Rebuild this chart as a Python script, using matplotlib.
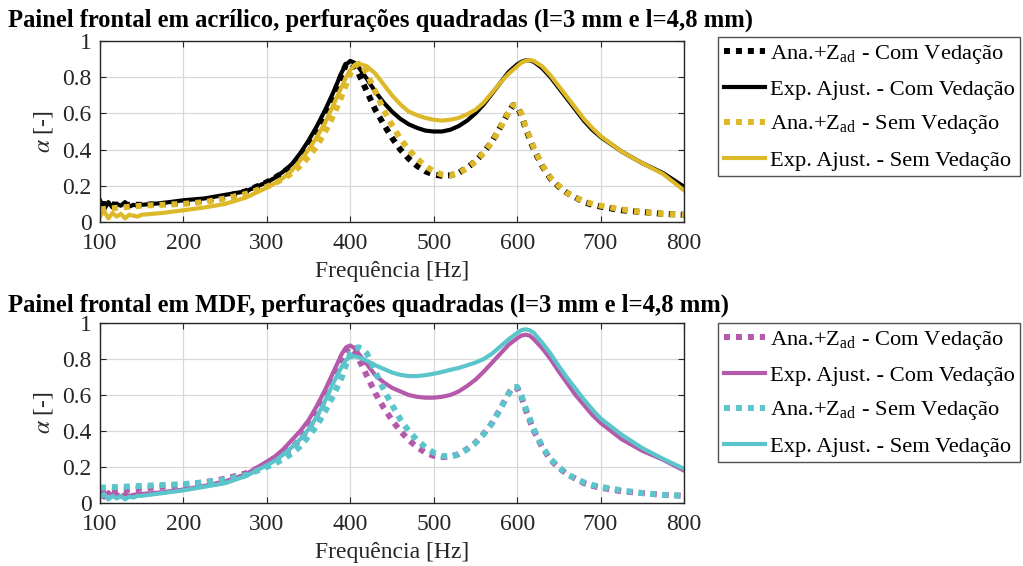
import matplotlib
matplotlib.use("Agg")
import matplotlib.pyplot as plt
from matplotlib.ticker import FuncFormatter

plt.rcParams['font.family'] = ['Liberation Serif', 'DejaVu Serif']
plt.rcParams['mathtext.fontset'] = 'stix'

# ---------------- data ----------------
f_ana = [100, 125, 150, 175, 200, 225, 250, 275, 300, 310, 320, 330, 340, 350, 360, 370, 380, 390, 395,
         400, 405, 410, 415, 420, 430, 440, 450, 460, 470, 480, 490, 500, 510, 520, 530, 540, 550, 560,
         570, 580, 590, 595, 600, 605, 610, 620, 630, 640, 650, 660, 670, 680, 690, 700, 725, 750, 775, 800]

f_exp = [100, 105, 110, 115, 120, 125, 130, 135, 140, 145, 150, 175, 200, 225, 250, 275, 300, 310, 320,
         330, 340, 350, 360, 370, 380, 390, 395, 400, 405, 410, 420, 430, 440, 450, 460, 470, 480, 490,
         500, 510, 520, 530, 540, 550, 560, 570, 580, 590, 600, 605, 610, 615, 620, 630, 640, 650, 660,
         670, 680, 690, 700, 725, 750, 775, 800]

# Acrylic panel
acr_ana_com = [0.10, 0.095, 0.095, 0.10, 0.105, 0.12, 0.14, 0.17, 0.22, 0.245, 0.275, 0.31, 0.36, 0.42,
               0.50, 0.59, 0.70, 0.82, 0.87, 0.88, 0.86, 0.82, 0.77, 0.72, 0.62, 0.54, 0.465, 0.40, 0.35,
               0.31, 0.28, 0.262, 0.255, 0.258, 0.272, 0.30, 0.335, 0.385, 0.445, 0.525, 0.61, 0.645,
               0.64, 0.59, 0.52, 0.40, 0.31, 0.24, 0.195, 0.16, 0.135, 0.11, 0.095, 0.085, 0.065, 0.055,
               0.045, 0.04]
acr_ana_sem = [0.07, 0.08, 0.09, 0.095, 0.10, 0.11, 0.13, 0.155, 0.195, 0.215, 0.24, 0.27, 0.31, 0.36,
               0.42, 0.50, 0.59, 0.70, 0.76, 0.82, 0.86, 0.875, 0.86, 0.82, 0.72, 0.62, 0.535, 0.46, 0.40,
               0.35, 0.31, 0.28, 0.262, 0.258, 0.27, 0.298, 0.333, 0.383, 0.443, 0.523, 0.61, 0.645,
               0.645, 0.60, 0.53, 0.41, 0.315, 0.245, 0.20, 0.16, 0.135, 0.115, 0.10, 0.09, 0.07, 0.055,
               0.045, 0.04]
acr_exp_com = [0.12, 0.07, 0.11, 0.08, 0.10, 0.09, 0.11, 0.085, 0.095, 0.09, 0.095, 0.105, 0.12, 0.13,
               0.15, 0.17, 0.22, 0.245, 0.28, 0.32, 0.38, 0.45, 0.53, 0.62, 0.72, 0.83, 0.87, 0.89, 0.88,
               0.855, 0.79, 0.72, 0.66, 0.61, 0.57, 0.54, 0.52, 0.505, 0.50, 0.50, 0.51, 0.53, 0.56, 0.60,
               0.65, 0.71, 0.77, 0.83, 0.87, 0.885, 0.893, 0.893, 0.885, 0.85, 0.80, 0.74, 0.68, 0.62,
               0.56, 0.51, 0.47, 0.39, 0.325, 0.27, 0.195]
acr_exp_sem = [0.03, 0.06, 0.02, 0.05, 0.03, 0.045, 0.02, 0.04, 0.035, 0.03, 0.04, 0.05, 0.065, 0.08,
               0.10, 0.135, 0.19, 0.215, 0.245, 0.285, 0.34, 0.40, 0.47, 0.55, 0.65, 0.75, 0.80, 0.84,
               0.865, 0.875, 0.86, 0.82, 0.76, 0.70, 0.65, 0.61, 0.59, 0.575, 0.565, 0.56, 0.565, 0.575,
               0.595, 0.62, 0.66, 0.715, 0.77, 0.82, 0.86, 0.88, 0.89, 0.895, 0.89, 0.86, 0.81, 0.75,
               0.69, 0.63, 0.57, 0.52, 0.475, 0.39, 0.325, 0.265, 0.175]

# MDF panel
mdf_ana_com = [0.06, 0.07, 0.08, 0.09, 0.10, 0.115, 0.135, 0.165, 0.215, 0.24, 0.27, 0.305, 0.355, 0.415,
               0.49, 0.58, 0.69, 0.80, 0.85, 0.865, 0.845, 0.80, 0.755, 0.705, 0.61, 0.53, 0.46, 0.40,
               0.35, 0.31, 0.28, 0.262, 0.255, 0.258, 0.272, 0.30, 0.335, 0.385, 0.445, 0.525, 0.61,
               0.645, 0.64, 0.59, 0.52, 0.40, 0.31, 0.24, 0.195, 0.16, 0.135, 0.11, 0.095, 0.085, 0.065,
               0.055, 0.045, 0.04]
mdf_ana_sem = [0.085, 0.09, 0.095, 0.10, 0.105, 0.115, 0.13, 0.155, 0.20, 0.22, 0.245, 0.275, 0.315, 0.37,
               0.43, 0.51, 0.60, 0.70, 0.77, 0.83, 0.86, 0.865, 0.855, 0.83, 0.73, 0.63, 0.545, 0.465,
               0.40, 0.35, 0.31, 0.28, 0.262, 0.258, 0.27, 0.298, 0.333, 0.383, 0.443, 0.523, 0.61,
               0.645, 0.645, 0.60, 0.53, 0.41, 0.315, 0.245, 0.20, 0.16, 0.135, 0.115, 0.10, 0.09, 0.07,
               0.055, 0.045, 0.04]
mdf_exp_com = [0.05, 0.03, 0.06, 0.04, 0.05, 0.035, 0.05, 0.04, 0.045, 0.05, 0.05, 0.06, 0.075, 0.095,
               0.12, 0.16, 0.23, 0.26, 0.30, 0.35, 0.40, 0.46, 0.54, 0.63, 0.73, 0.83, 0.865, 0.875,
               0.86, 0.83, 0.77, 0.71, 0.67, 0.64, 0.62, 0.60, 0.59, 0.585, 0.585, 0.59, 0.60, 0.62,
               0.65, 0.685, 0.73, 0.78, 0.83, 0.88, 0.915, 0.93, 0.935, 0.93, 0.91, 0.86, 0.80, 0.73,
               0.665, 0.60, 0.545, 0.49, 0.445, 0.355, 0.29, 0.24, 0.18]
mdf_exp_sem = [0.03, 0.05, 0.02, 0.04, 0.025, 0.04, 0.02, 0.035, 0.03, 0.04, 0.04, 0.055, 0.07, 0.09,
               0.11, 0.15, 0.21, 0.235, 0.27, 0.31, 0.355, 0.41, 0.48, 0.57, 0.67, 0.76, 0.795, 0.81,
               0.815, 0.81, 0.79, 0.765, 0.745, 0.725, 0.712, 0.705, 0.705, 0.71, 0.718, 0.728, 0.74,
               0.75, 0.765, 0.78, 0.80, 0.83, 0.87, 0.91, 0.945, 0.96, 0.965, 0.96, 0.945, 0.89, 0.83,
               0.76, 0.695, 0.635, 0.575, 0.52, 0.47, 0.38, 0.305, 0.245, 0.19]

titles = ["Painel frontal em acrílico, perfurações quadradas (l=3 mm e l=4,8 mm)",
          "Painel frontal em MDF, perfurações quadradas (l=3 mm e l=4,8 mm)"]
labels = [r"Ana.+Z$_\mathregular{ad}$ - Com Vedação", "Exp. Ajust. - Com Vedação",
          r"Ana.+Z$_\mathregular{ad}$ - Sem Vedação", "Exp. Ajust. - Sem Vedação"]
xticks = [100, 200, 300, 400, 500, 600, 700, 800]
yticks = [0, 0.2, 0.4, 0.6, 0.8, 1]

# ---------------- styling ----------------
W, H = 1023, 566
fig = plt.figure(figsize=(W / 100, H / 100), dpi=100)
GRAY = '#262626'

panels = [
    dict(rect=(100, 41, 684, 222), title_y=20, colors=('black', '#DDB92A'),
         series=(acr_ana_com, acr_exp_com, acr_ana_sem, acr_exp_sem), leg=(718, 37)),
    dict(rect=(100, 323, 684, 503), title_y=305, colors=('#B55AAB', '#5BC5CB'),
         series=(mdf_ana_com, mdf_exp_com, mdf_ana_sem, mdf_exp_sem), leg=(718, 323)),
]

for p, title in zip(panels, titles):
    x0, y0, x1, y1 = p['rect']
    ax = fig.add_axes([x0 / W, 1 - y1 / H, (x1 - x0) / W, (y1 - y0) / H])
    c_com, c_sem = p['colors']
    s_ana_com, s_exp_com, s_ana_sem, s_exp_sem = p['series']
    handles = []
    handles += ax.plot(f_ana, s_ana_com, color=c_com, lw=4.3, linestyle=(0, (1, 1)))
    handles += ax.plot(f_exp, s_exp_com, color=c_com, lw=3)
    handles += ax.plot(f_ana, s_ana_sem, color=c_sem, lw=4.3, linestyle=(0, (1, 1)))
    handles += ax.plot(f_exp, s_exp_sem, color=c_sem, lw=3)
    ax.set_xlim(100, 800)
    ax.set_ylim(0, 1)
    ax.set_xticks(xticks)
    ax.set_yticks(yticks)
    ax.yaxis.set_major_formatter(FuncFormatter(lambda v, pos: f"{v:g}"))
    ax.grid(True, color='#d9d9d9', lw=0.9)
    ax.set_axisbelow(True)
    ax.tick_params(direction='in', top=True, right=True, labelsize=17, colors=GRAY, length=4)
    ax.tick_params(axis='x', pad=8)
    ax.tick_params(axis='y', pad=6)
    for sp in ax.spines.values():
        sp.set_color(GRAY)
        sp.set_linewidth(1.0)
    ax.set_xlabel("Frequência [Hz]", fontsize=17, color=GRAY, labelpad=5)
    ax.set_ylabel(r"$\alpha$ [-]", fontsize=17, color=GRAY, labelpad=5)
    fig.text(8 / W, 1 - p['title_y'] / H, title, fontsize=17.7, fontweight='bold',
             ha='left', va='center')
    lx, ly = p['leg']
    leg = fig.legend(handles, labels, loc='upper left', bbox_to_anchor=(lx / W, 1 - ly / H),
                     fontsize=16.2, frameon=True, fancybox=False, edgecolor=GRAY,
                     handlelength=1.85, handletextpad=0.2, labelspacing=0.6, borderpad=0.25,
                     borderaxespad=0)
    leg.get_frame().set_linewidth(1.0)

fig.savefig("out.png", dpi=100)
